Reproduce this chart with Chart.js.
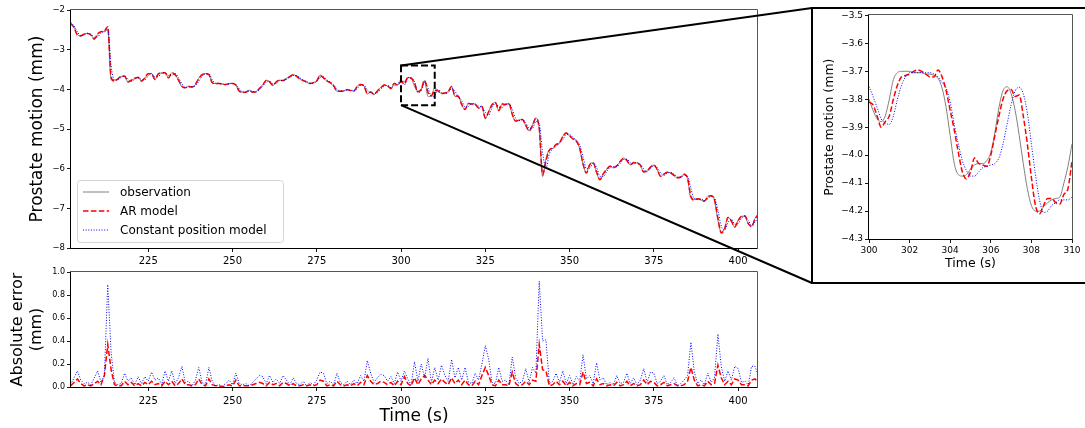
<!DOCTYPE html>
<html>
<head>
<meta charset="utf-8">
<title>Prostate motion prediction</title>
<script src="https://cdn.jsdelivr.net/npm/chart.js@4.4.0/dist/chart.umd.min.js"></script>
<style>
  html, body { margin: 0; padding: 0; background: #ffffff; }
  #wrap { position: relative; width: 1085px; height: 428px; overflow: hidden; background: #ffffff; }
  #wrap canvas { position: absolute; }
  #overlay { pointer-events: none; }
</style>
</head>
<body>
<div id="wrap">
  <canvas id="mainChart" width="775" height="268" style="left:0px;top:0px"></canvas>
  <canvas id="errorChart" width="775" height="166" style="left:0px;top:262px"></canvas>
  <canvas id="zoomChart" width="274" height="275" style="left:811px;top:8px"></canvas>
  <canvas id="overlay" width="1085" height="428" style="left:0px;top:0px"></canvas>
</div>
<script>
// ---------- sampled signals (1 s grid from 202 s) ----------
const mainStart = 202;
const mainStep = 1;

const observation = [
  -2.33,-2.45,-2.62,-2.66,-2.60,-2.59,-2.62,-2.74,-2.62,-2.54,-2.55,-2.50,
  -3.76,-3.77,-3.73,-3.68,-3.66,-3.82,-3.78,-3.72,-3.69,-3.80,
  -3.72,-3.60,-3.60,-3.76,-3.60,-3.59,-3.57,-3.72,-3.58,-3.62,
  -3.78,-3.93,-3.96,-3.92,-3.95,-3.88,-3.72,-3.63,-3.60,-3.62,
  -3.85,-3.85,-3.85,-3.87,-3.88,-3.85,-3.85,-3.90,-4.06,-4.07,
  -4.07,-4.02,-4.08,-4.06,-3.97,-3.88,-3.77,-3.81,-3.91,-3.80,
  -3.77,-3.78,-3.72,-3.68,-3.62,-3.68,-3.74,-3.78,-3.82,-3.86,
  -3.83,-3.78,-3.64,-3.72,-3.79,-3.84,-3.92,-4.05,-4.04,-4.04,
  -4.00,-4.03,-4.04,-3.92,-3.88,-3.92,-4.12,-4.06,-4.14,-4.03,
  -3.95,-3.89,-3.92,-3.99,-3.84,-3.90,-3.80,-3.80,-3.70,-3.71,
  -3.93,-4.05,-3.99,-3.78,-4.18,-4.16,-3.96,-4.05,-4.10,-4.10,
  -4.05,-3.92,-4.18,-4.17,-4.40,-4.50,-4.35,-4.38,-4.37,-4.48,
  -4.42,-4.75,-4.55,-4.38,-4.33,-4.55,-4.36,-4.39,-4.35,-4.65,
  -4.80,-4.77,-4.76,-4.92,-5.05,-4.90,-4.72,-5.00,-6.20,-5.75,
  -5.52,-5.49,-5.38,-5.35,-5.18,-5.10,-5.18,-5.25,-5.30,-5.50,
  -5.90,-6.10,-5.88,-5.85,-6.10,-6.28,-6.12,-6.02,-5.93,-5.98,
  -5.92,-5.82,-5.73,-5.80,-5.91,-5.84,-5.86,-5.92,-6.10,-6.05,
  -5.95,-5.91,-6.03,-6.20,-6.13,-6.09,-6.11,-6.18,-6.23,-6.20,
  -6.14,-6.25,-6.75,-6.77,-6.76,-6.79,-6.82,-6.70,-6.68,-6.80,
  -7.30,-7.60,-7.50,-7.22,-7.33,-7.48,-7.30,-7.20,-7.20,-7.40,
  -7.45,-7.25,-7.15
];

const arModel = [
  -2.34,-2.44,-2.63,-2.65,-2.61,-2.59,-2.63,-2.73,-2.60,-2.55,-2.53,-2.42,
  -3.70,-3.79,-3.74,-3.67,-3.67,-3.81,-3.77,-3.72,-3.70,-3.79,
  -3.71,-3.61,-3.61,-3.75,-3.61,-3.59,-3.58,-3.71,-3.59,-3.63,
  -3.77,-3.92,-3.96,-3.93,-3.94,-3.87,-3.73,-3.63,-3.61,-3.63,
  -3.83,-3.86,-3.85,-3.87,-3.88,-3.86,-3.85,-3.89,-4.04,-4.08,
  -4.07,-4.03,-4.07,-4.06,-3.98,-3.89,-3.78,-3.81,-3.90,-3.81,
  -3.77,-3.78,-3.73,-3.68,-3.63,-3.67,-3.74,-3.78,-3.82,-3.85,
  -3.83,-3.79,-3.65,-3.71,-3.79,-3.83,-3.91,-4.04,-4.05,-4.04,
  -4.01,-4.03,-4.04,-3.93,-3.88,-3.91,-4.10,-4.07,-4.13,-4.04,
  -3.96,-3.89,-3.91,-3.98,-3.85,-3.89,-3.81,-3.86,-3.71,-3.72,
  -3.84,-4.06,-4.00,-3.77,-4.08,-4.16,-4.02,-4.04,-4.11,-4.09,
  -4.06,-3.93,-4.16,-4.18,-4.38,-4.51,-4.36,-4.37,-4.38,-4.47,
  -4.43,-4.72,-4.57,-4.39,-4.33,-4.53,-4.37,-4.38,-4.36,-4.62,
  -4.80,-4.78,-4.76,-4.90,-5.05,-4.91,-4.73,-4.98,-6.15,-5.80,
  -5.53,-5.48,-5.39,-5.35,-5.19,-5.10,-5.17,-5.25,-5.31,-5.48,
  -5.88,-6.11,-5.90,-5.85,-6.08,-6.28,-6.13,-6.02,-5.94,-5.97,
  -5.93,-5.82,-5.74,-5.79,-5.90,-5.85,-5.86,-5.91,-6.08,-6.06,
  -5.96,-5.91,-6.02,-6.19,-6.14,-6.09,-6.11,-6.17,-6.23,-6.21,
  -6.14,-6.24,-6.70,-6.79,-6.76,-6.78,-6.82,-6.71,-6.68,-6.79,
  -7.25,-7.62,-7.52,-7.23,-7.32,-7.47,-7.31,-7.20,-7.19,-7.38,
  -7.46,-7.27,-7.15
];

const constantPosition = [
  -2.31,-2.40,-2.55,-2.65,-2.63,-2.59,-2.61,-2.69,-2.68,-2.57,-2.54,-2.46,
  -3.40,-3.77,-3.75,-3.70,-3.66,-3.75,-3.80,-3.75,-3.70,-3.75,
  -3.76,-3.66,-3.60,-3.69,-3.68,-3.59,-3.58,-3.65,-3.65,-3.60,
  -3.71,-3.86,-3.95,-3.94,-3.93,-3.91,-3.80,-3.67,-3.61,-3.61,
  -3.75,-3.85,-3.85,-3.86,-3.88,-3.86,-3.85,-3.88,-3.98,-4.07,
  -4.07,-4.04,-4.05,-4.07,-4.01,-3.92,-3.82,-3.79,-3.86,-3.85,
  -3.78,-3.78,-3.75,-3.70,-3.65,-3.65,-3.71,-3.76,-3.80,-3.84,
  -3.85,-3.80,-3.70,-3.68,-3.76,-3.82,-3.88,-3.99,-4.05,-4.04,
  -4.02,-4.02,-4.04,-3.98,-3.90,-3.90,-4.02,-4.09,-4.10,-4.08,
  -3.99,-3.92,-3.90,-3.96,-3.91,-3.87,-3.755,-3.89,-3.705,-3.705,
  -3.81,-4.075,-4.035,-3.82,-3.96,-4.18,-4.15,-4.00,-4.08,-4.10,
  -4.08,-3.98,-4.05,-4.18,-4.28,-4.45,-4.43,-4.36,-4.37,-4.42,
  -4.45,-4.58,-4.65,-4.46,-4.35,-4.44,-4.46,-4.37,-4.37,-4.50,
  -4.73,-4.79,-4.76,-4.84,-4.98,-4.98,-4.81,-4.86,-5.60,-5.98,
  -5.63,-5.50,-5.44,-5.36,-5.27,-5.14,-5.14,-5.21,-5.28,-5.40,
  -5.70,-6.00,-5.99,-5.86,-5.97,-6.19,-6.20,-6.07,-5.97,-5.95,
  -5.95,-5.87,-5.77,-5.76,-5.85,-5.88,-5.85,-5.89,-6.01,-6.08,
  -6.00,-5.93,-5.97,-6.11,-6.17,-6.11,-6.10,-6.14,-6.21,-6.22,
  -6.17,-6.19,-6.50,-6.76,-6.77,-6.77,-6.80,-6.76,-6.69,-6.74,
  -7.05,-7.45,-7.55,-7.36,-7.27,-7.40,-7.39,-7.25,-7.20,-7.30,
  -7.43,-7.35,-7.20
];

// absolute prediction errors on the same 1 s grid
const errorAR = [
  0.01,0.04,0.07,0.03,0.01,0.02,0.01,0.03,0.05,0.02,0.10,0.37,
  0.15,0.02,0.01,0.01,0.05,0.02,0.04,0.01,0.03,0.01,
  0.04,0.02,0.05,0.02,0.03,0.01,0.05,0.02,0.05,0.01,
  0.03,0.07,0.02,0.02,0.01,0.02,0.07,0.02,0.01,0.07,
  0.02,0.01,0.01,0.00,0.01,0.02,0.01,0.06,0.01,0.01,
  0.01,0.01,0.02,0.03,0.04,0.03,0.01,0.04,0.02,0.03,
  0.01,0.04,0.03,0.01,0.03,0.01,0.01,0.02,0.01,0.02,
  0.01,0.02,0.06,0.05,0.01,0.02,0.01,0.05,0.02,0.01,
  0.02,0.01,0.03,0.01,0.04,0.02,0.10,0.05,0.02,0.03,
  0.05,0.04,0.02,0.04,0.01,0.05,0.02,0.09,0.03,0.01,
  0.08,0.02,0.07,0.10,0.06,0.02,0.06,0.03,0.07,0.04,
  0.02,0.08,0.03,0.06,0.02,0.06,0.02,0.01,0.05,0.02,
  0.10,0.17,0.10,0.02,0.01,0.06,0.02,0.02,0.01,0.13,
  0.03,0.01,0.02,0.05,0.02,0.06,0.05,0.37,0.15,0.14,
  0.01,0.02,0.05,0.02,0.05,0.01,0.04,0.01,0.03,0.02,
  0.13,0.03,0.04,0.01,0.07,0.02,0.03,0.01,0.02,0.01,
  0.04,0.01,0.02,0.05,0.01,0.03,0.01,0.02,0.06,0.02,
  0.05,0.04,0.01,0.02,0.04,0.01,0.02,0.03,0.01,0.01,
  0.02,0.05,0.17,0.06,0.01,0.02,0.01,0.05,0.02,0.03,
  0.19,0.08,0.02,0.05,0.02,0.07,0.06,0.02,0.02,0.01,
  0.06,0.07,0.04
];

const errorCP = [
  0.02,0.08,0.14,0.06,0.03,0.04,0.02,0.08,0.14,0.04,0.10,0.89,
  0.30,0.04,0.02,0.03,0.12,0.05,0.08,0.02,0.09,0.03,
  0.09,0.05,0.13,0.06,0.08,0.02,0.14,0.05,0.14,0.03,
  0.08,0.18,0.04,0.05,0.01,0.06,0.17,0.04,0.02,0.17,
  0.05,0.01,0.02,0.01,0.03,0.06,0.02,0.12,0.03,0.02,
  0.03,0.01,0.04,0.07,0.10,0.09,0.03,0.10,0.04,0.07,
  0.03,0.10,0.06,0.02,0.08,0.03,0.02,0.05,0.01,0.04,
  0.02,0.06,0.13,0.12,0.03,0.05,0.02,0.12,0.04,0.02,
  0.05,0.02,0.06,0.03,0.10,0.05,0.23,0.12,0.04,0.08,
  0.11,0.10,0.05,0.09,0.03,0.13,0.05,0.14,0.07,0.02,
  0.22,0.05,0.20,0.08,0.25,0.04,0.17,0.06,0.19,0.10,
  0.05,0.24,0.08,0.17,0.06,0.17,0.04,0.03,0.12,0.06,
  0.20,0.36,0.24,0.04,0.03,0.17,0.05,0.06,0.02,0.26,
  0.08,0.03,0.05,0.16,0.04,0.17,0.12,0.92,0.40,0.41,
  0.03,0.05,0.12,0.04,0.14,0.03,0.10,0.02,0.09,0.05,
  0.28,0.07,0.10,0.03,0.21,0.06,0.08,0.02,0.04,0.02,
  0.10,0.03,0.04,0.12,0.03,0.08,0.02,0.06,0.16,0.04,
  0.13,0.12,0.03,0.05,0.10,0.02,0.04,0.08,0.01,0.03,
  0.06,0.10,0.39,0.13,0.03,0.06,0.02,0.12,0.04,0.08,
  0.46,0.18,0.05,0.14,0.06,0.18,0.16,0.04,0.05,0.02,
  0.18,0.18,0.10
];

// ---------- close-up window 300 s to 310 s (0.2 s grid) ----------
const zoomStart = 300;
const zoomStep = 0.2;

const zoomObservation = [
  -3.80,-3.84,-3.87,-3.88,-3.86,
  -3.80,-3.73,-3.705,-3.70,-3.70,
  -3.70,-3.705,-3.705,-3.705,-3.71,
  -3.71,-3.715,-3.725,-3.76,-3.83,
  -3.93,-4.03,-4.07,-4.075,-4.07,
  -4.05,-4.035,-4.03,-4.03,-4.02,
  -3.99,-3.92,-3.83,-3.77,-3.755,
  -3.78,-3.84,-3.93,-4.03,-4.12,
  -4.18,-4.20,-4.20,-4.185,-4.17,
  -4.16,-4.155,-4.15,-4.10,-4.04,
  -3.96
];

const zoomAR = [
  -3.81,-3.82,-3.86,-3.90,-3.88,
  -3.86,-3.80,-3.75,-3.72,-3.715,
  -3.71,-3.70,-3.695,-3.70,-3.71,
  -3.72,-3.72,-3.695,-3.72,-3.77,
  -3.84,-3.91,-3.99,-4.06,-4.085,
  -4.06,-4.01,-4.03,-4.035,-4.04,
  -4.00,-3.93,-3.86,-3.80,-3.77,
  -3.765,-3.79,-3.785,-3.86,-3.96,
  -4.08,-4.18,-4.21,-4.18,-4.155,
  -4.155,-4.17,-4.175,-4.14,-4.12,
  -4.02
];

const zoomCP = [
  -3.755,-3.79,-3.83,-3.87,-3.885,
  -3.89,-3.86,-3.80,-3.75,-3.72,
  -3.705,-3.705,-3.705,-3.705,-3.705,
  -3.705,-3.71,-3.72,-3.74,-3.76,
  -3.81,-3.89,-3.96,-4.02,-4.055,
  -4.075,-4.075,-4.06,-4.045,-4.04,
  -4.035,-4.03,-4.01,-3.96,-3.89,
  -3.82,-3.77,-3.757,-3.78,-3.85,
  -3.96,-4.07,-4.16,-4.205,-4.20,
  -4.18,-4.17,-4.16,-4.16,-4.16,
  -4.15
];

// ---------- axis ticks and ranges ----------
const timeTicks = [225, 250, 275, 300, 325, 350, 375, 400];
const timeRange = [202.1, 405.6];
const motionTicks = [-8, -7, -6, -5, -4, -3, -2];
const errorTicks = [0.0, 0.2, 0.4, 0.6, 0.8, 1.0];
const zoomTimeTicks = [300, 302, 304, 306, 308, 310];
const zoomMotionTicks = [-4.3, -4.2, -4.1, -4.0, -3.9, -3.8, -3.7, -3.6, -3.5];
const zoomRegion = { t0: 300, t1: 310, lo: -4.4, hi: -3.4 };

const seriesLabels = ['observation', 'AR model', 'Constant position model'];

// ---------- helpers ----------
const FONT = '"DejaVu Sans", "Liberation Sans", sans-serif';
const MINUS = '\u2212';

function toPoints(start, step, values) {
  return values.map((v, i) => ({ x: +(start + i * step).toFixed(3), y: v }));
}

const lineStyles = [
  { borderColor: '#808080', borderWidth: 1.0, borderDash: [] },
  { borderColor: '#ff0000', borderWidth: 1.5, borderDash: [5.5, 2.4] },
  { borderColor: '#0000ff', borderWidth: 1.0, borderDash: [1, 1.65] }
];

function lineDataset(label, points, style, order, smooth) {
  return Object.assign({
    label: label,
    data: points,
    pointRadius: 0,
    fill: false,
    order: order,
    tension: 0,
    cubicInterpolationMode: smooth ? 'monotone' : 'default'
  }, style);
}

function makeAxis(cfg) {
  const horizontal = cfg.horizontal;
  return {
    type: 'linear',
    min: cfg.min,
    max: cfg.max,
    afterBuildTicks: (s) => { s.ticks = cfg.ticks.map(v => ({ value: v })); },
    afterFit: (s) => { if (horizontal) { s.height = cfg.size; } else { s.width = cfg.size; } },
    grid: { display: true, drawOnChartArea: false, drawTicks: true, tickLength: 4, tickWidth: 0.9, tickColor: '#000000' },
    border: { display: false },
    ticks: {
      autoSkip: false, maxRotation: 0, minRotation: 0,
      color: '#000000', padding: cfg.tickPad,
      font: { family: FONT, size: cfg.tickSize },
      callback: (v) => cfg.fmt(v).replace('-', MINUS)
    },
    title: cfg.title ? {
      display: true, text: cfg.title, color: '#000000',
      font: { family: FONT, size: cfg.titleSize },
      padding: cfg.titlePad
    } : { display: false }
  };
}

// frame around each plotting area: dark left/bottom spines, softer top/right
const framePlugin = {
  id: 'plotFrame',
  afterDatasetsDraw(chart) {
    const { ctx, chartArea: a } = chart;
    const l = Math.round(a.left) - 0.5, t = Math.round(a.top) - 0.5;
    const r = Math.round(a.right) + 0.5, b = Math.round(a.bottom) + 0.5;
    ctx.save();
    ctx.lineWidth = 1;
    ctx.strokeStyle = '#555555';
    ctx.beginPath();
    ctx.moveTo(l, t); ctx.lineTo(r, t); ctx.lineTo(r, b);
    ctx.stroke();
    ctx.strokeStyle = '#000000';
    ctx.beginPath();
    ctx.moveTo(l, t); ctx.lineTo(l, b); ctx.lineTo(r, b);
    ctx.stroke();
    ctx.restore();
  }
};

// legend box in the lower-left corner of the top panel
const cornerLegend = {
  id: 'cornerLegend',
  afterDatasetsDraw(chart, args, opts) {
    if (!opts || !opts.display) return;
    const { ctx, chartArea: a } = chart;
    const sets = chart.data.datasets;
    const x = a.left + 6, w = 206, h = 62;
    const y = a.bottom - 6 - h;
    ctx.save();
    ctx.beginPath();
    ctx.roundRect(x + 0.5, y + 0.5, w, h, 3);
    ctx.fillStyle = 'rgba(255,255,255,0.85)';
    ctx.fill();
    ctx.strokeStyle = '#d5d5d5';
    ctx.lineWidth = 1;
    ctx.stroke();
    ctx.font = '12px ' + FONT;
    ctx.textBaseline = 'middle';
    ctx.fillStyle = '#000000';
    sets.forEach((ds, i) => {
      const cy = y + 12 + i * 19;
      ctx.beginPath();
      ctx.setLineDash(ds.borderDash || []);
      ctx.lineWidth = ds.borderWidth;
      ctx.strokeStyle = ds.borderColor;
      ctx.moveTo(x + 6, cy);
      ctx.lineTo(x + 32, cy);
      ctx.stroke();
      ctx.setLineDash([]);
      ctx.fillText(ds.label, x + 43, cy + 0.5);
    });
    ctx.restore();
  }
};

Chart.defaults.font.family = FONT;
Chart.defaults.animation = false;
Chart.defaults.responsive = false;
Chart.defaults.maintainAspectRatio = false;
Chart.defaults.plugins.tooltip.enabled = false;
Chart.defaults.events = [];

// ---------- top panel: motion traces ----------
const mainChart = new Chart(document.getElementById('mainChart'), {
  type: 'line',
  data: {
    datasets: [
      lineDataset(seriesLabels[0], toPoints(mainStart, mainStep, observation), lineStyles[0], 2, true),
      lineDataset(seriesLabels[1], toPoints(mainStart, mainStep, arModel), lineStyles[1], 1, true),
      lineDataset(seriesLabels[2], toPoints(mainStart, mainStep, constantPosition), lineStyles[2], 0, true)
    ]
  },
  options: {
    layout: { padding: { top: 10, right: 18, left: 0, bottom: 0 } },
    plugins: { legend: { display: false }, cornerLegend: { display: true } },
    scales: {
      x: makeAxis({ horizontal: true, min: timeRange[0], max: timeRange[1], ticks: timeTicks, size: 20,
                    tickPad: 3, tickSize: 10, fmt: v => String(v) }),
      y: makeAxis({ horizontal: false, min: -8, max: -2, ticks: motionTicks, size: 71,
                    tickPad: 2, tickSize: 8.5, fmt: v => String(v),
                    title: 'Prostate motion (mm)', titleSize: 17, titlePad: { top: 27, bottom: 0 } })
    }
  },
  plugins: [framePlugin, cornerLegend]
});

// ---------- bottom panel: absolute errors ----------
const errorChart = new Chart(document.getElementById('errorChart'), {
  type: 'line',
  data: {
    datasets: [
      lineDataset(seriesLabels[1], toPoints(mainStart, mainStep, errorAR), lineStyles[1], 1, false),
      lineDataset(seriesLabels[2], toPoints(mainStart, mainStep, errorCP), lineStyles[2], 0, false)
    ]
  },
  options: {
    layout: { padding: { top: 10, right: 18, left: 0, bottom: 0 } },
    plugins: { legend: { display: false } },
    scales: {
      x: makeAxis({ horizontal: true, min: timeRange[0], max: timeRange[1], ticks: timeTicks, size: 41,
                    tickPad: 4, tickSize: 10, fmt: v => String(v),
                    title: 'Time (s)', titleSize: 17, titlePad: { top: 0, bottom: 1 } }),
      y: makeAxis({ horizontal: false, min: 0, max: 1, ticks: errorTicks, size: 71,
                    tickPad: 2, tickSize: 8, fmt: v => v.toFixed(1),
                    title: ['Absolute error', '(mm)'], titleSize: 16, titlePad: { top: 8, bottom: 0 } })
    }
  },
  plugins: [framePlugin]
});

// ---------- close-up panel ----------
const zoomChart = new Chart(document.getElementById('zoomChart'), {
  type: 'line',
  data: {
    datasets: [
      lineDataset(seriesLabels[0], toPoints(zoomStart, zoomStep, zoomObservation), lineStyles[0], 2, true),
      lineDataset(seriesLabels[1], toPoints(zoomStart, zoomStep, zoomAR), lineStyles[1], 1, true),
      lineDataset(seriesLabels[2], toPoints(zoomStart, zoomStep, zoomCP), lineStyles[2], 0, true)
    ]
  },
  options: {
    layout: { padding: { top: 7, right: 13, left: 0, bottom: 0 } },
    plugins: { legend: { display: false } },
    scales: {
      x: makeAxis({ horizontal: true, min: 300, max: 310, ticks: zoomTimeTicks, size: 44,
                    tickPad: 2, tickSize: 9, fmt: v => String(v),
                    title: 'Time (s)', titleSize: 12.5, titlePad: { top: 0, bottom: 11.5 } }),
      y: makeAxis({ horizontal: false, min: -4.3, max: -3.5, ticks: zoomMotionTicks, size: 58,
                    tickPad: 2, tickSize: 9, fmt: v => v.toFixed(1),
                    title: 'Prostate motion (mm)', titleSize: 12.5, titlePad: { top: 11.5, bottom: 0 } })
    }
  },
  plugins: [framePlugin]
});

// ---------- zoom marker, frame and connector lines ----------
(function drawZoomMarker() {
  const ov = document.getElementById('overlay');
  const ctx = ov.getContext('2d');
  const zc = document.getElementById('zoomChart');
  const sx = mainChart.scales.x, sy = mainChart.scales.y;
  const bx0 = sx.getPixelForValue(zoomRegion.t0);
  const bx1 = sx.getPixelForValue(zoomRegion.t1);
  const by0 = sy.getPixelForValue(zoomRegion.hi);
  const by1 = sy.getPixelForValue(zoomRegion.lo);
  const fx = zc.offsetLeft + 1, fy = zc.offsetTop;
  const fb = zc.offsetTop + zc.height;

  ctx.save();
  ctx.strokeStyle = '#000000';
  ctx.lineWidth = 2;
  ctx.lineCap = 'butt';

  // dashed rectangle over the close-up window
  ctx.setLineDash([7, 3]);
  ctx.strokeRect(bx0, by0, bx1 - bx0, by1 - by0);
  ctx.setLineDash([]);

  // connectors to the close-up panel
  ctx.beginPath();
  ctx.moveTo(bx0, by0); ctx.lineTo(fx, fy);
  ctx.moveTo(bx0, by1); ctx.lineTo(fx, fb);
  ctx.stroke();

  // frame around the close-up panel
  ctx.strokeRect(fx, fy, 300, fb - fy);
  ctx.restore();
})();
</script>
</body>
</html>
